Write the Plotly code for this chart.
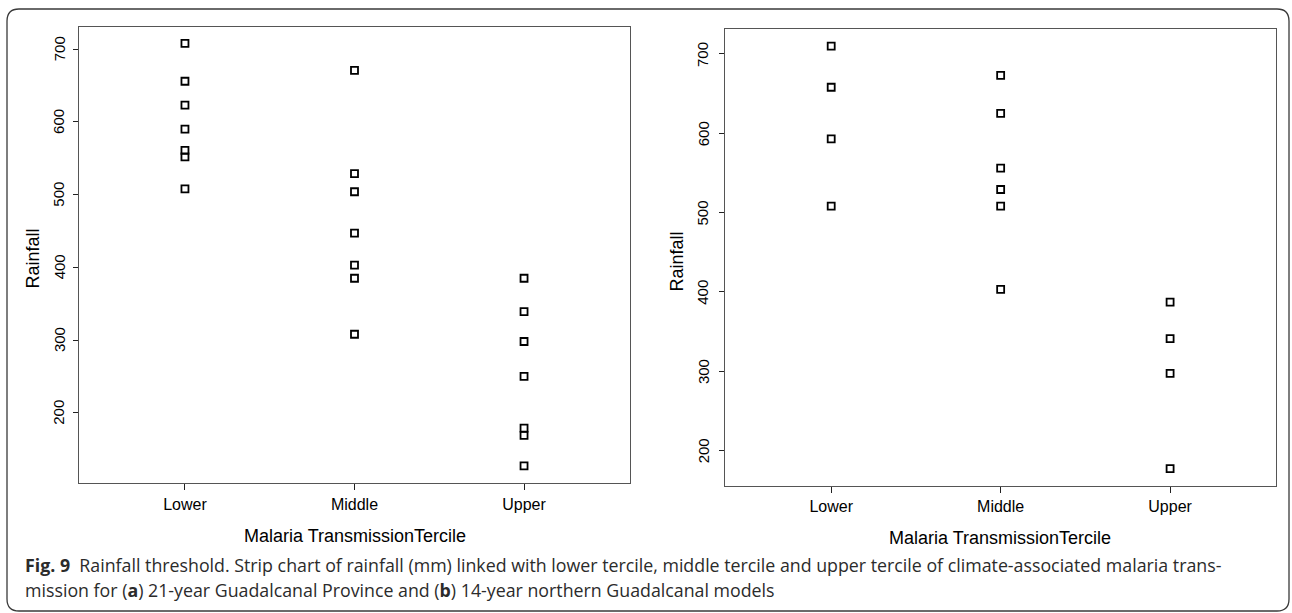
import plotly.graph_objects as go

# ---- data ----
categories = ["Lower", "Middle", "Upper"]

# (a) 21-year Guadalcanal Province
lower_a = [708, 656, 623, 590, 561, 552, 508]
middle_a = [671, 529, 504, 447, 403, 385, 308]
upper_a = [385, 339, 298, 250, 179, 169, 127]

# (b) 14-year northern Guadalcanal
lower_b = [710, 658, 593, 508]
middle_b = [673, 625, 556, 529, 508, 403]
upper_b = [387, 341, 297, 177]

y_ticks = [200, 300, 400, 500, 600, 700]
x_title = "Malaria TransmissionTercile"
y_title = "Rainfall"
caption_1 = ("<b>Fig. 9</b>  Rainfall threshold. Strip chart of rainfall (mm) linked with lower tercile, "
             "middle tercile and upper tercile of climate-associated malaria trans-")
caption_2 = ("mission for (<b>a</b>) 21-year Guadalcanal Province and (<b>b</b>) "
             "14-year northern Guadalcanal models")

W, H = 1292, 613


def px(x):
    return x / W


def py(y):
    return 1 - y / H


marker = dict(symbol="square-open", size=7, color="black", line=dict(width=1.8, color="black"))

fig = go.Figure()
panels = [
    ("x", "y", [lower_a, middle_a, upper_a]),
    ("x2", "y2", [lower_b, middle_b, upper_b]),
]
for xa, ya, groups in panels:
    for cat, vals in zip(categories, groups):
        fig.add_trace(go.Scatter(
            x=[cat] * len(vals), y=vals, mode="markers", marker=marker,
            xaxis=xa, yaxis=ya, showlegend=False, hoverinfo="skip", cliponaxis=False,
        ))

axis_common = dict(showgrid=False, zeroline=False, showline=True, mirror=True,
                   linecolor="#555555", linewidth=1.2, ticks="outside", tickcolor="#222222",
                   tickwidth=1.2)

xaxis_style = dict(type="category", categoryorder="array", categoryarray=categories,
                   range=[-0.625, 2.625], tickfont=dict(size=16), ticklen=6, **axis_common)
yaxis_style = dict(tickvals=y_ticks, ticklen=5, showticklabels=False, **axis_common)

fig.update_layout(
    width=W, height=H, autosize=False,
    margin=dict(l=0, r=0, t=0, b=0),
    paper_bgcolor="white", plot_bgcolor="white",
    font=dict(family="Liberation Sans, Arial, sans-serif", color="black"),
    xaxis=dict(domain=[px(79), px(630)], anchor="y", **xaxis_style),
    yaxis=dict(domain=[py(483.3), py(26.7)], anchor="x", range=[103, 731], **yaxis_style),
    xaxis2=dict(domain=[px(725.3), px(1276)], anchor="y2", **xaxis_style),
    yaxis2=dict(domain=[py(486), py(29)], anchor="x2", range=[155, 731.5], **yaxis_style),
)

ann = []
# rotated y tick labels (R style), placed on the y scale of each panel
for yref, xc in [("y", 59), ("y2", 703)]:
    for v in y_ticks:
        ann.append(dict(text=str(v), x=px(xc), xref="paper", y=v, yref=yref,
                        showarrow=False, xanchor="center", yanchor="middle", textangle=-90,
                        font=dict(size=15, family="Liberation Sans, Arial, sans-serif")))
# axis titles
for xc, yc in [(354.5, 536), (1000.5, 538)]:
    ann.append(dict(text=x_title, x=px(xc), y=py(yc), xref="paper", yref="paper",
                    showarrow=False, xanchor="center", yanchor="middle",
                    font=dict(size=18, family="Liberation Sans, Arial, sans-serif")))
for xc, yc in [(32.5, 259), (676.5, 262)]:
    ann.append(dict(text=y_title, x=px(xc), y=py(yc), xref="paper", yref="paper",
                    showarrow=False, xanchor="center", yanchor="middle", textangle=-90,
                    font=dict(size=18, family="Liberation Sans, Arial, sans-serif")))
# caption
cap_font = dict(size=17.8, family="Open Sans, sans-serif", color="#2b2b2b")
ann.append(dict(text=caption_1, x=px(23), y=py(565), xref="paper", yref="paper",
                showarrow=False, xanchor="left", yanchor="middle", font=cap_font))
ann.append(dict(text=caption_2, x=px(23), y=py(590), xref="paper", yref="paper",
                showarrow=False, xanchor="left", yanchor="middle", font=cap_font))
fig.update_layout(annotations=ann)

# rounded frame around the figure
x0, y0, x1, y1, r = 7, 9, 1289, 611, 12
path = (
    f"M {px(x0 + r)},{py(y0)} L {px(x1 - r)},{py(y0)} "
    f"Q {px(x1)},{py(y0)} {px(x1)},{py(y0 + r)} "
    f"L {px(x1)},{py(y1 - r)} Q {px(x1)},{py(y1)} {px(x1 - r)},{py(y1)} "
    f"L {px(x0 + r)},{py(y1)} Q {px(x0)},{py(y1)} {px(x0)},{py(y1 - r)} "
    f"L {px(x0)},{py(y0 + r)} Q {px(x0)},{py(y0)} {px(x0 + r)},{py(y0)} Z"
)
fig.add_shape(type="path", path=path, xref="paper", yref="paper",
              line=dict(color="#3a3a3a", width=1.3), layer="below")

fig.write_html("out.html", config={"displayModeBar": False},
               post_script="document.body.style.margin='0';document.body.style.overflow='hidden';")
